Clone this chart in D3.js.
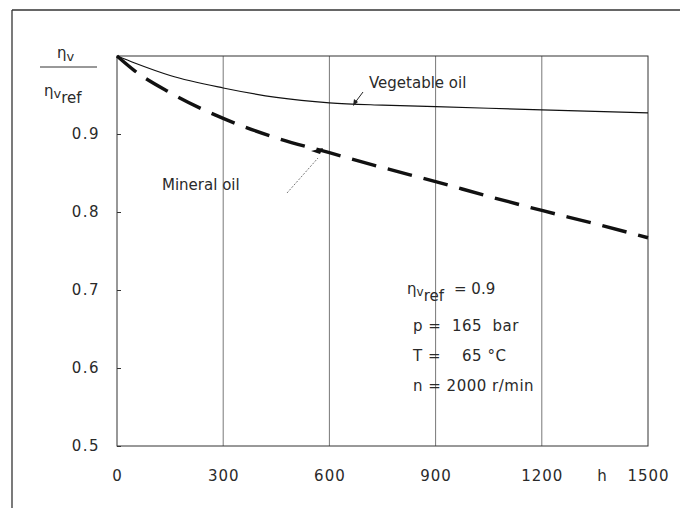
<!DOCTYPE html>
<html><head><meta charset="utf-8">
<script src="https://cdn.jsdelivr.net/npm/d3@7"></script>
<style>body{margin:0;background:#fff}svg{display:block}text{font-family:"DejaVu Sans",sans-serif;fill:#2a2a2a}</style>
</head><body><svg id="c" width="680" height="508"></svg>
<script>
const hours = [0, 50, 150, 300, 450, 600, 750, 900, 1050, 1200, 1350, 1500];
const vegetableOil = [1.0, 0.991, 0.975, 0.959, 0.947, 0.940, 0.937, 0.935, 0.933, 0.931, 0.929, 0.927];
const mineralOil = [1.0, 0.981, 0.953, 0.920, 0.895, 0.876, 0.857, 0.839, 0.820, 0.802, 0.785, 0.767];
const xTicks = [0, 300, 600, 900, 1200, 1500];
const xTickLabels = ["0", "300", "600", "900", "1200", "1500"];
const yTicks = [0.5, 0.6, 0.7, 0.8, 0.9];
const yTickLabels = ["0.5", "0.6", "0.7", "0.8", "0.9"];
const conditions = ["p =  165  bar", "T =    65 °C", "n = 2000 r/min"];

const svg = d3.select("#c");
const x = d3.scaleLinear().domain([0, 1500]).range([117, 648]);
const y = d3.scaleLinear().domain([0.5, 1.0]).range([446, 56]);
const FS = "15px";

// outer frame
svg.append("line").attr("x1", 12).attr("x2", 680).attr("y1", 10).attr("y2", 10).attr("stroke", "#333").attr("stroke-width", 1.3);
svg.append("line").attr("x1", 12).attr("x2", 12).attr("y1", 10).attr("y2", 508).attr("stroke", "#333").attr("stroke-width", 1.3);

// vertical grid
svg.append("g").selectAll("line").data(xTicks.slice(1, -1)).join("line")
  .attr("x1", d => x(d)).attr("x2", d => x(d)).attr("y1", y(1.0)).attr("y2", y(0.5))
  .attr("stroke", "#555").attr("stroke-width", 0.8);

// plot frame
svg.append("rect").attr("x", x(0)).attr("y", y(1.0)).attr("width", x(1500) - x(0)).attr("height", y(0.5) - y(1.0))
  .attr("fill", "none").attr("stroke", "#333").attr("stroke-width", 1);

// y axis ticks
const yAxis = d3.axisLeft(y).tickValues(yTicks).tickSize(3).tickFormat((d, i) => yTickLabels[i]);
const gy = svg.append("g").attr("transform", `translate(${x(0)},0)`).call(yAxis);
gy.select(".domain").remove();
gy.selectAll("line").attr("x2", 4).attr("stroke", "#333");
gy.selectAll("text").attr("x", -17).style("font-size", FS).style("letter-spacing", "1.5px").style("font-family", "DejaVu Sans").attr("fill", "#2a2a2a");

// x axis labels
const xAxis = d3.axisBottom(x).tickValues(xTicks).tickSize(0).tickFormat((d, i) => xTickLabels[i]);
const gx = svg.append("g").attr("transform", `translate(0,${y(0.5)})`).call(xAxis);
gx.select(".domain").remove();
gx.selectAll("text").attr("y", 24).style("font-size", FS).style("letter-spacing", "1px").style("font-family", "DejaVu Sans").attr("fill", "#2a2a2a");
svg.append("text").attr("x", 602).attr("y", 481).attr("text-anchor", "middle").style("font-size", FS).text("h");

// lines
const line = d3.line().x((d, i) => x(hours[i])).y(d => y(d)).curve(d3.curveMonotoneX);
svg.append("path").datum(vegetableOil).attr("d", line).attr("fill", "none").attr("stroke", "#111").attr("stroke-width", 1.2);
svg.append("path").datum(mineralOil).attr("d", line).attr("fill", "none").attr("stroke", "#111").attr("stroke-width", 3.4)
  .attr("stroke-dasharray", "25,12").attr("stroke-dashoffset", 0);

// y label fraction
const yl = svg.append("text").attr("x", 57).attr("y", 58).style("font-size", FS);
yl.append("tspan").text("η");
yl.append("tspan").attr("dy", 3).style("font-size", "13px").text("v");
svg.append("line").attr("x1", 40).attr("x2", 97).attr("y1", 67).attr("y2", 67).attr("stroke", "#333").attr("stroke-width", 1);
const yl2 = svg.append("text").attr("x", 44).attr("y", 96).style("font-size", FS);
yl2.append("tspan").text("η");
yl2.append("tspan").attr("dy", 2).style("font-size", "13px").text("v");
yl2.append("tspan").attr("dy", 5).style("font-size", FS).text("ref");

// series labels
svg.append("text").attr("x", 369).attr("y", 88).style("font-size", FS).text("Vegetable oil");
svg.append("line").attr("x1", 363).attr("y1", 92).attr("x2", 354).attr("y2", 104).attr("stroke", "#222").attr("stroke-width", 1);
svg.append("path").attr("d", "M353,106 L354,99 L358,102 Z").attr("fill", "#222");
svg.append("text").attr("x", 162).attr("y", 190).style("font-size", FS).text("Mineral oil");
svg.append("line").attr("x1", 287).attr("y1", 193).attr("x2", 318).attr("y2", 158).attr("stroke", "#555").attr("stroke-width", 0.8).attr("stroke-dasharray", "2,1.5");
svg.append("path").attr("d", "M320,154 L311,151 L323,148 Z").attr("fill", "#111");

// conditions
const c0 = svg.append("text").attr("x", 407).attr("y", 294).style("font-size", FS);
c0.append("tspan").text("η");
c0.append("tspan").attr("dy", 2).style("font-size", "12px").text("v");
c0.append("tspan").attr("dy", 5).style("font-size", FS).text("ref");
c0.append("tspan").attr("dy", -7).attr("x", 454).text("=   0.9");
svg.append("g").selectAll("text").data(conditions).join("text")
  .attr("x", 413).attr("y", (d, i) => 331 + i * 30).style("font-size", FS).style("letter-spacing", "0.5px")
  .attr("xml:space", "preserve").text(d => d);
</script></body></html>
